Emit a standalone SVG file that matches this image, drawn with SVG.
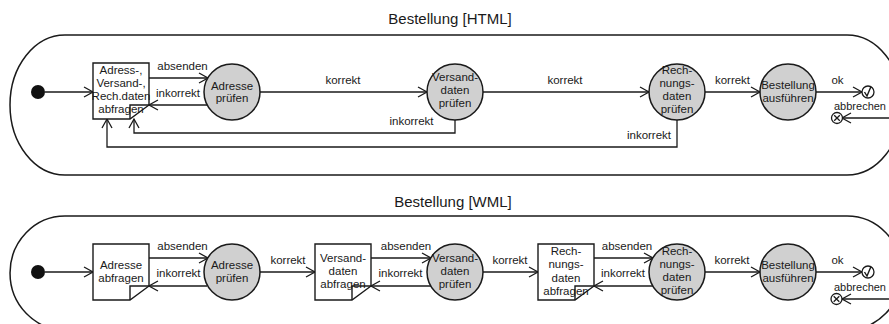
<svg xmlns="http://www.w3.org/2000/svg" width="889" height="324" viewBox="0 0 889 324">
<style>
.t{font-family:"Liberation Sans",Arial,Helvetica,sans-serif;font-size:11.5px;fill:#1a1a1a;text-anchor:middle}
.title{font-family:"Liberation Sans",Arial,Helvetica,sans-serif;font-size:15px;fill:#1a1a1a;text-anchor:middle}
.st{text-anchor:start;font-size:11px}
.cont{fill:none;stroke:#1a1a1a;stroke-width:1.5}
.box{fill:#fff;stroke:#1a1a1a;stroke-width:1.4}
.flap{fill:none;stroke:#1a1a1a;stroke-width:1.4}
.act{fill:#d0d0d0;stroke:#1a1a1a;stroke-width:1.5}
.con{fill:none;stroke:#1a1a1a;stroke-width:1.3;marker-end:url(#ah)}
.fin{fill:#fff;stroke:#1a1a1a;stroke-width:1.3}
</style>
<defs>
<marker id="ah" markerWidth="12" markerHeight="12" refX="10" refY="6" orient="auto" markerUnits="userSpaceOnUse" viewBox="0 0 12 12">
<path d="M1,1 L10,6 L1,11" fill="none" stroke="#1a1a1a" stroke-width="1.3"/>
</marker>
</defs>

<g id="container-html">
<path class="cont" d="M65,35 H847 A55,70 0 0 1 847,175 H65 A55,70 0 0 1 65,35 Z"/>
<text class="title" x="450" y="24">Bestellung [HTML]</text>
</g>
<g id="container-wml">
<path class="cont" d="M65,216 H847 A55,57 0 0 1 847,330 H65 A55,57 0 0 1 65,216 Z"/>
<text class="title" x="453" y="207">Bestellung [WML]</text>
</g>

<g id="connectors">
<path class="con" d="M45,92 H93"/>
<path class="con" d="M149,78 H208"/>
<path class="con" d="M207,105 H149"/>
<path class="con" d="M260,92 H427"/>
<path class="con" d="M483,92 H649"/>
<path class="con" d="M705,92 H760"/>
<path class="con" d="M816,92 H862"/>
<path class="con" d="M895,118 H842"/>
<path class="con" d="M455,120 V133 H134 V119"/>
<path class="con" d="M677,120 V147 H107 V119"/>

<path class="con" d="M45,272 H93"/>
<path class="con" d="M149,258 H208"/>
<path class="con" d="M207,286 H149"/>
<path class="con" d="M260,272 H315"/>
<path class="con" d="M371,258 H431"/>
<path class="con" d="M431,286 H371"/>
<path class="con" d="M483,272 H538"/>
<path class="con" d="M594,258 H653"/>
<path class="con" d="M653,286 H594"/>
<path class="con" d="M705,272 H760"/>
<path class="con" d="M816,272 H862"/>
<path class="con" d="M895,299 H842"/>

<text class="t" x="182.5" y="70">absenden</text>
<text class="t" x="178" y="97">inkorrekt</text>
<text class="t" x="343" y="84">korrekt</text>
<text class="t" x="565" y="84">korrekt</text>
<text class="t" x="732.5" y="84">korrekt</text>
<text class="t" x="837.5" y="84">ok</text>
<text class="t st" x="834" y="110">abbrechen</text>
<text class="t" x="411.5" y="125">inkorrekt</text>
<text class="t" x="649" y="139">inkorrekt</text>

<text class="t" x="182.5" y="250">absenden</text>
<text class="t" x="178.5" y="277">inkorrekt</text>
<text class="t" x="288" y="264">korrekt</text>
<text class="t" x="406" y="250">absenden</text>
<text class="t" x="400.5" y="277">inkorrekt</text>
<text class="t" x="510" y="264">korrekt</text>
<text class="t" x="627" y="250">absenden</text>
<text class="t" x="623" y="277">inkorrekt</text>
<text class="t" x="732" y="264">korrekt</text>
<text class="t" x="837.5" y="264">ok</text>
<text class="t st" x="834" y="291">abbrechen</text>
</g>

<!-- HTML row -->
<g id="start-html"><circle cx="38" cy="92" r="7" fill="#111"/></g>
<g id="abfragen-html">
<path class="box" d="M93,63 H149 V105 L130,119 H93 Z"/>
<path class="flap" d="M130,119 V105 H149"/>
<text class="t" x="121" y="74">Adress-,</text>
<text class="t" x="121" y="87">Versand-,</text>
<text class="t" x="121" y="100">Rech.daten</text>
<text class="t" x="121" y="113">abfragen</text>
</g>
<g id="adresse-pruefen-html">
<circle class="act" cx="232" cy="92" r="28"/>
<text class="t" x="232" y="90">Adresse</text>
<text class="t" x="232" y="102">prüfen</text>
</g>
<g id="versand-pruefen-html">
<circle class="act" cx="455" cy="92" r="28"/>
<text class="t" x="455" y="81">Versand-</text>
<text class="t" x="455" y="94">daten</text>
<text class="t" x="455" y="107">prüfen</text>
</g>
<g id="rech-pruefen-html">
<circle class="act" cx="677" cy="92" r="28"/>
<text class="t" x="677" y="74">Rech-</text>
<text class="t" x="677" y="87">nungs-</text>
<text class="t" x="677" y="100">daten</text>
<text class="t" x="677" y="113">prüfen</text>
</g>
<g id="ausfuehren-html">
<circle class="act" cx="788" cy="92" r="28"/>
<text class="t" x="788" y="89">Bestellung</text>
<text class="t" x="788" y="102">ausführen</text>
</g>
<g id="ok-html">
<circle class="fin" cx="868" cy="92" r="6"/>
<path fill="none" stroke="#1a1a1a" stroke-width="1.4" d="M864.5,92 L867,96 L871,86.5"/>
</g>
<g id="abbruch-html">
<circle class="fin" cx="837" cy="118" r="5.5"/>
<path fill="none" stroke="#1a1a1a" stroke-width="1.3" d="M834.2,115.2 L839.8,120.8 M839.8,115.2 L834.2,120.8"/>
</g>

<!-- WML row -->
<g id="start-wml"><circle cx="38" cy="272" r="7" fill="#111"/></g>
<g id="adresse-abfragen-wml">
<path class="box" d="M93,244 H149 V286 L130,300 H93 Z"/>
<path class="flap" d="M130,300 V286 H149"/>
<text class="t" x="121" y="268.5">Adresse</text>
<text class="t" x="121" y="282">abfragen</text>
</g>
<g id="adresse-pruefen-wml">
<circle class="act" cx="232" cy="272" r="28"/>
<text class="t" x="232" y="269">Adresse</text>
<text class="t" x="232" y="282">prüfen</text>
</g>
<g id="versand-abfragen-wml">
<path class="box" d="M315,244 H371 V286 L352,300 H315 Z"/>
<path class="flap" d="M352,300 V286 H371"/>
<text class="t" x="343" y="262">Versand-</text>
<text class="t" x="343" y="275">daten</text>
<text class="t" x="343" y="288">abfragen</text>
</g>
<g id="versand-pruefen-wml">
<circle class="act" cx="455" cy="272" r="28"/>
<text class="t" x="455" y="262">Versand-</text>
<text class="t" x="455" y="275">daten</text>
<text class="t" x="455" y="288">prüfen</text>
</g>
<g id="rech-abfragen-wml">
<path class="box" d="M538,244 H594 V286 L575,300 H538 Z"/>
<path class="flap" d="M575,300 V286 H594"/>
<text class="t" x="566" y="255">Rech-</text>
<text class="t" x="566" y="268">nungs-</text>
<text class="t" x="566" y="281.5">daten</text>
<text class="t" x="566" y="295">abfragen</text>
</g>
<g id="rech-pruefen-wml">
<circle class="act" cx="677" cy="272" r="28"/>
<text class="t" x="677" y="255">Rech-</text>
<text class="t" x="677" y="268">nungs-</text>
<text class="t" x="677" y="281">daten</text>
<text class="t" x="677" y="294">prüfen</text>
</g>
<g id="ausfuehren-wml">
<circle class="act" cx="788" cy="272" r="28"/>
<text class="t" x="788" y="268.5">Bestellung</text>
<text class="t" x="788" y="282">ausführen</text>
</g>
<g id="ok-wml">
<circle class="fin" cx="868" cy="272" r="6"/>
<path fill="none" stroke="#1a1a1a" stroke-width="1.4" d="M864.5,272 L867,276 L871,266.5"/>
</g>
<g id="abbruch-wml">
<circle class="fin" cx="836.5" cy="299" r="5.5"/>
<path fill="none" stroke="#1a1a1a" stroke-width="1.3" d="M833.7,296.2 L839.3,301.8 M839.3,296.2 L833.7,301.8"/>
</g>
</svg>
